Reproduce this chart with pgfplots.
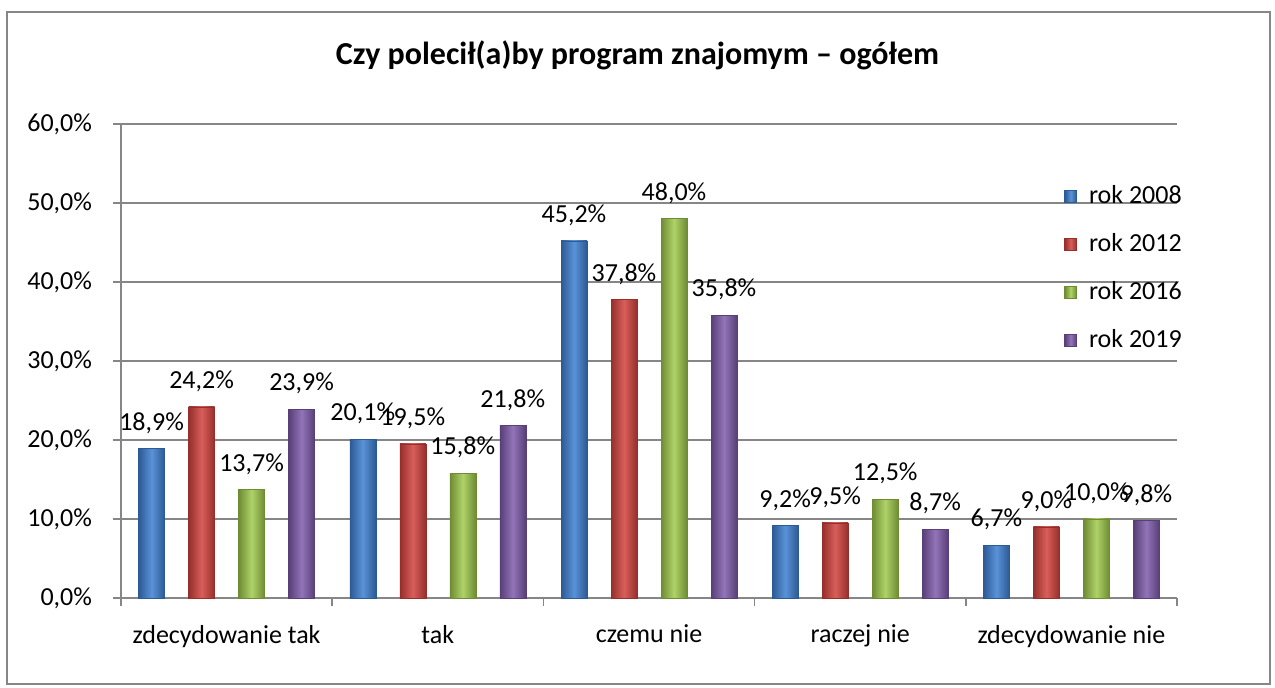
\documentclass[border=0pt]{standalone}
\usepackage{fontspec}
\setmainfont{Carlito}
\usepackage{pgfplots}
\pgfplotsset{compat=1.18}
\definecolor{gridc}{HTML}{868686}
\definecolor{bAd}{HTML}{2C5A94}\definecolor{bAl}{HTML}{5A92D8}
\definecolor{rAd}{HTML}{962F2C}\definecolor{rAl}{HTML}{D85E5A}
\definecolor{gAd}{HTML}{6E8C33}\definecolor{gAl}{HTML}{AFD268}
\definecolor{pAd}{HTML}{583F77}\definecolor{pAl}{HTML}{9274B8}
\pgfplotsset{
  sA/.style={left color=bAd, right color=bAd, middle color=bAl, draw=bAd, line width=0.3pt},
  sB/.style={left color=rAd, right color=rAd, middle color=rAl, draw=rAd, line width=0.3pt},
  sC/.style={left color=gAd, right color=gAd, middle color=gAl, draw=gAd, line width=0.3pt},
  sD/.style={left color=pAd, right color=pAd, middle color=pAl, draw=pAd, line width=0.3pt},
}
\newcommand{\onebar}[3]{\addplot[ybar, bar width=13pt, bar shift=#2, #1, forget plot,
  every node near coord/.append style={xshift=#2}] coordinates {#3};}
\begin{document}
\begin{tikzpicture}[font=\fontsize{13}{15.6}\selectfont]
\useasboundingbox (0,0) rectangle (637.5pt,344pt);
\draw[gridc, line width=0.9pt] (3.5pt,2pt) rectangle (635pt,338pt);
\node[font=\fontsize{16}{19}\selectfont\bfseries] at (318.75pt,316.5pt) {Czy polecił(a)by program znajomym – ogółem};
\begin{axis}[
  at={(60.5pt,45pt)}, anchor=south west,
  scale only axis, width=528pt, height=237pt,
  /pgf/number format/assume math mode=true,
  xmin=-0.5, xmax=4.5, ymin=0, ymax=60,
  xtick={0,1,2,3,4},
  xticklabels={zdecydowanie tak, tak, czemu nie, raczej nie, zdecydowanie nie},
  minor xtick={-0.5,0.5,1.5,2.5,3.5,4.5},
  major x tick style={draw=none},
  minor tick length=4pt, major tick length=4pt,
  tick align=outside,
  ytick={0,10,...,60},
  yticklabel={\pgfmathprintnumber[fixed,fixed zerofill,precision=1,use comma]{\tick}\%},
  axis lines*=left,
  axis line style={gridc, line width=0.8pt},
  every tick/.style={gridc, line width=0.8pt},
  ymajorgrids, grid style={gridc, line width=0.8pt},
  xticklabel style={yshift=-6pt},
  yticklabel style={xshift=-7pt},
  nodes near coords={\pgfmathprintnumber[fixed,fixed zerofill,precision=1,use comma]{\pgfplotspointmeta}\%},
  every node near coord/.append style={anchor=south, yshift=4pt, black},
  legend style={at={(0.893,0.879)}, anchor=north west, draw=none, fill=none,
    row sep=9.5pt, font=\fontsize{13}{15.6}\selectfont, inner sep=0pt},
  legend cell align=left,
  legend image code/.code={\path[#1] (0pt,-3pt) rectangle (6pt,3pt);},
  clip=false,
]
\onebar{sA}{-37.5pt}{(0,18.9)}
\onebar{sA}{-37.5pt}{(1,20.1)}
\onebar{sA}{-37.5pt}{(2,45.2)}
\onebar{sA}{-37.5pt}{(3,9.2)}
\onebar{sA}{-37.5pt}{(4,6.7)}
\onebar{sB}{-12.5pt}{(0,24.2)}
\onebar{sB}{-12.5pt}{(1,19.5)}
\onebar{sB}{-12.5pt}{(2,37.8)}
\onebar{sB}{-12.5pt}{(3,9.5)}
\onebar{sB}{-12.5pt}{(4,9.0)}
\onebar{sC}{12.5pt}{(0,13.7)}
\onebar{sC}{12.5pt}{(1,15.8)}
\onebar{sC}{12.5pt}{(2,48.0)}
\onebar{sC}{12.5pt}{(3,12.5)}
\onebar{sC}{12.5pt}{(4,10.0)}
\onebar{sD}{37.5pt}{(0,23.9)}
\onebar{sD}{37.5pt}{(1,21.8)}
\onebar{sD}{37.5pt}{(2,35.8)}
\onebar{sD}{37.5pt}{(3,8.7)}
\onebar{sD}{37.5pt}{(4,9.8)}
\addlegendimage{sA}\addlegendentry{\hspace{4pt}rok 2008}
\addlegendimage{sB}\addlegendentry{\hspace{4pt}rok 2012}
\addlegendimage{sC}\addlegendentry{\hspace{4pt}rok 2016}
\addlegendimage{sD}\addlegendentry{\hspace{4pt}rok 2019}
\end{axis}
\end{tikzpicture}
\end{document}
